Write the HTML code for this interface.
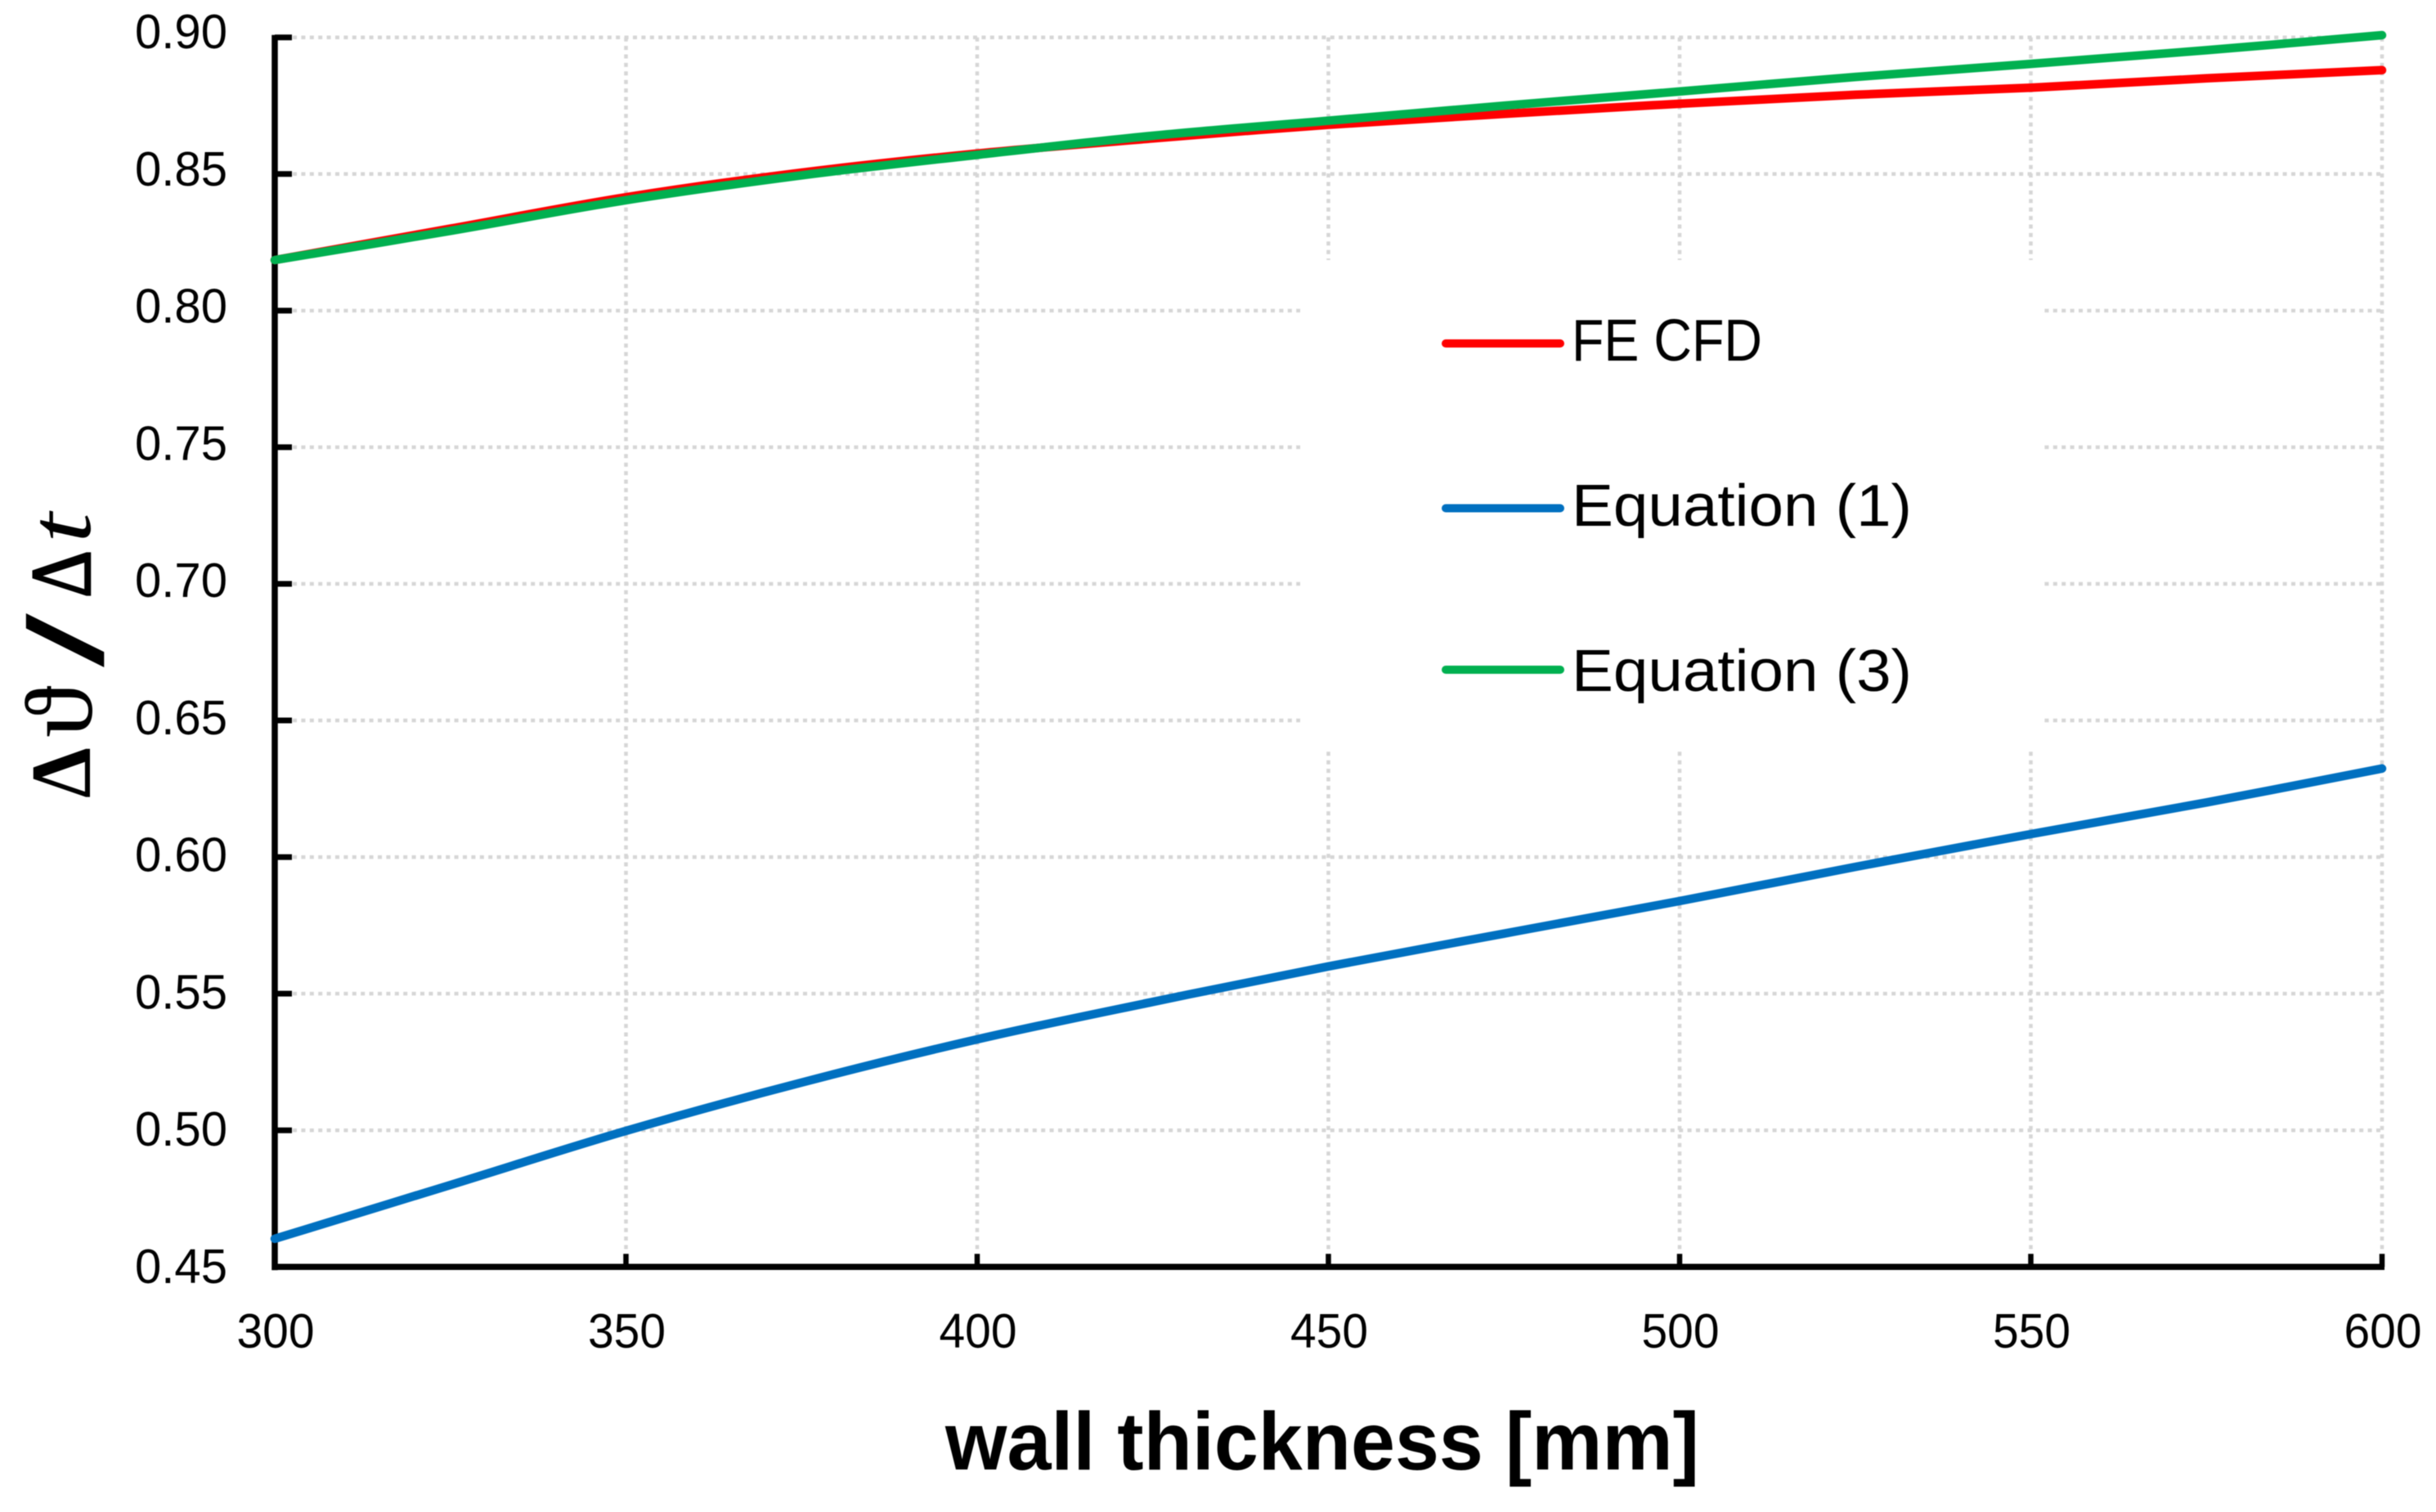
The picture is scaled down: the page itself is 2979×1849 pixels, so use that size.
<!DOCTYPE html>
<html lang="en">
<head>
<meta charset="utf-8">
<title>Temperature ratio versus wall thickness</title>
<style>
  html, body { margin: 0; padding: 0; background: #fff; }
  svg { display: block; font-family: "Liberation Sans", sans-serif; filter: blur(0.6px); }
</style>
</head>
<body>
<svg id="chart" xmlns="http://www.w3.org/2000/svg" width="2979" height="1849" viewBox="0 0 2979 1849">
  <rect x="0" y="0" width="2979" height="1849" fill="#fff"/>
  <g id="grid"></g>
  <rect x="1590" y="318" width="910" height="600" fill="#fff"/>
  <g id="axes"></g>
  <g id="series"></g>

  <g>
    <g>
      <line x1="1768" y1="420" x2="1908" y2="420" stroke="#ff0000" stroke-width="10" stroke-linecap="round"/>
      <text x="1922" y="441" font-size="72" textLength="233" lengthAdjust="spacingAndGlyphs" fill="#000">FE CFD</text>
    </g>
    <g>
      <line x1="1768" y1="621.5" x2="1908" y2="621.5" stroke="#0070c0" stroke-width="10" stroke-linecap="round"/>
      <text x="1922" y="643" font-size="72" textLength="416" lengthAdjust="spacingAndGlyphs" fill="#000">Equation (1)</text>
    </g>
    <g>
      <line x1="1768" y1="819" x2="1908" y2="819" stroke="#00b050" stroke-width="10" stroke-linecap="round"/>
      <text x="1922" y="845" font-size="72" textLength="416" lengthAdjust="spacingAndGlyphs" fill="#000">Equation (3)</text>
    </g>
  </g>

  <text x="1156" y="1797" font-size="100" font-weight="700" textLength="922" lengthAdjust="spacingAndGlyphs" fill="#000">wall thickness [mm]</text>

  <g fill="#000" font-family="&quot;Liberation Serif&quot;, &quot;DejaVu Serif&quot;, serif">
    <text transform="translate(110 976) rotate(-90)" font-size="105" font-weight="700" textLength="62" lengthAdjust="spacingAndGlyphs">Δ</text>
    <text transform="translate(112 902) rotate(-90)" font-size="118" textLength="63" lengthAdjust="spacingAndGlyphs">ϑ</text>
    <text transform="translate(126 816) rotate(-90)" font-size="130" font-weight="400" textLength="66" lengthAdjust="spacingAndGlyphs" font-family="&quot;Liberation Sans&quot;, sans-serif">/</text>
    <text transform="translate(110 731) rotate(-90)" font-size="105" stroke="#000" stroke-width="2.5" textLength="58" lengthAdjust="spacingAndGlyphs">Δ</text>
    <text transform="translate(110 664) rotate(-90)" font-size="108" font-style="italic" textLength="37" lengthAdjust="spacingAndGlyphs">t</text>
  </g>
</svg>

<script>
const xTickValues = [300, 350, 400, 450, 500, 550, 600];
const yTickValues = [0.90, 0.85, 0.80, 0.75, 0.70, 0.65, 0.60, 0.55, 0.50, 0.45];
const wallThickness = [300, 325, 350, 375, 400, 425, 450, 475, 500, 525, 550, 575, 600];
const feCfdValues = [0.8185, 0.8300, 0.8415, 0.8505, 0.8575, 0.8630, 0.8680, 0.8720, 0.8757, 0.8790, 0.8816, 0.8850, 0.8880];
const equation1Values = [0.4603, 0.4800, 0.4998, 0.5175, 0.5333, 0.5470, 0.5600, 0.5720, 0.5839, 0.5964, 0.6084, 0.6200, 0.6324];
const equation3Values = [0.8185, 0.8292, 0.8404, 0.8495, 0.8570, 0.8640, 0.8695, 0.8750, 0.8802, 0.8855, 0.8903, 0.8953, 0.9008];

const NS = 'http://www.w3.org/2000/svg';
const xAt = v => 336 + (v - 300) * (2913 - 336) / 300;
const yAt = v => 1549.3 - (v - 0.45) * (1549.3 - 45.7) / 0.45;
const yLabelBaseline = v => 1569 - (v - 0.45) * (1569 - 59) / 0.45;

const grid = document.getElementById('grid');
const axes = document.getElementById('axes');
const seriesGroup = document.getElementById('series');

function setAll(el, attrs) {
  Object.keys(attrs).forEach(k => el.setAttribute(k, attrs[k]));
  return el;
}

yTickValues.forEach(v => {
  const g = setAll(document.createElementNS(NS, 'line'), {
    x1: xAt(300) + 22, x2: xAt(600), y1: yAt(v), y2: yAt(v),
    stroke: '#d6d6d6', 'stroke-width': 4.5, 'stroke-dasharray': '5 5.4'
  });
  
  
  grid.appendChild(g);

  const t = setAll(document.createElementNS(NS, 'line'), {
    x1: xAt(300), x2: xAt(300) + 21, y1: yAt(v), y2: yAt(v),
    stroke: '#000', 'stroke-width': 7
  });
  
  
  axes.appendChild(t);

  const l = setAll(document.createElementNS(NS, 'text'), {
    x: 165, y: yLabelBaseline(v), 'font-size': 59, fill: '#000',
    textLength: 113, lengthAdjust: 'spacingAndGlyphs'
  });
  
  
  l.textContent = v.toFixed(2);
  axes.appendChild(l);
});

xTickValues.forEach(v => {
  if (v !== 300) {
    const g = setAll(document.createElementNS(NS, 'line'), {
      x1: xAt(v), x2: xAt(v), y1: yAt(0.90), y2: yAt(0.45) - 17,
      stroke: '#d6d6d6', 'stroke-width': 4.5, 'stroke-dasharray': '5 5.4'
    });
    
    
    grid.appendChild(g);

    const t = setAll(document.createElementNS(NS, 'line'), {
      x1: xAt(v), x2: xAt(v), y1: yAt(0.45), y2: yAt(0.45) - 16,
      stroke: '#000', 'stroke-width': 6.5
    });
    
    
    axes.appendChild(t);
  }
  const l = setAll(document.createElementNS(NS, 'text'), {
    x: xAt(v) + 1, y: 1648, 'font-size': 59, fill: '#000', 'text-anchor': 'middle',
    textLength: 95, lengthAdjust: 'spacingAndGlyphs'
  });
  
  
  l.textContent = String(v);
  axes.appendChild(l);
});

const yAxisLine = setAll(document.createElementNS(NS, 'line'), {
  x1: xAt(300), x2: xAt(300), y1: yAt(0.90) - 3, y2: yAt(0.45) + 4,
  stroke: '#000', 'stroke-width': 7.5
});


axes.appendChild(yAxisLine);

const xAxisLine = setAll(document.createElementNS(NS, 'line'), {
  x1: xAt(300) - 3, x2: xAt(600) + 3, y1: yAt(0.45), y2: yAt(0.45),
  stroke: '#000', 'stroke-width': 7.5
});


axes.appendChild(xAxisLine);

// Smooth curve through the data points (Catmull-Rom converted to cubic Bezier).
function pathFor(values) {
  const pts = values.map((v, i) => [xAt(wallThickness[i]), yAt(v)]);
  let d = 'M' + pts[0][0].toFixed(1) + ' ' + pts[0][1].toFixed(1);
  for (let i = 0; i < pts.length - 1; i++) {
    const p0 = pts[Math.max(i - 1, 0)];
    const p1 = pts[i];
    const p2 = pts[i + 1];
    const p3 = pts[Math.min(i + 2, pts.length - 1)];
    const c1x = p1[0] + (p2[0] - p0[0]) / 6;
    const c1y = p1[1] + (p2[1] - p0[1]) / 6;
    const c2x = p2[0] - (p3[0] - p1[0]) / 6;
    const c2y = p2[1] - (p3[1] - p1[1]) / 6;
    d += ' C' + c1x.toFixed(1) + ' ' + c1y.toFixed(1) + ' ' + c2x.toFixed(1) + ' ' + c2y.toFixed(1) + ' ' + p2[0].toFixed(1) + ' ' + p2[1].toFixed(1);
  }
  return d;
}

const redLine = setAll(document.createElementNS(NS, 'path'), {
  d: pathFor(feCfdValues), fill: 'none', stroke: '#ff0000', 'stroke-width': 10.5,
  'stroke-linecap': 'round', 'stroke-linejoin': 'round'
});


seriesGroup.appendChild(redLine);

const blueLine = setAll(document.createElementNS(NS, 'path'), {
  d: pathFor(equation1Values), fill: 'none', stroke: '#0070c0', 'stroke-width': 10.5,
  'stroke-linecap': 'round', 'stroke-linejoin': 'round'
});


seriesGroup.appendChild(blueLine);

const greenLine = setAll(document.createElementNS(NS, 'path'), {
  d: pathFor(equation3Values), fill: 'none', stroke: '#00b050', 'stroke-width': 10.5,
  'stroke-linecap': 'round', 'stroke-linejoin': 'round'
});


seriesGroup.appendChild(greenLine);
</script>
</body>
</html>
